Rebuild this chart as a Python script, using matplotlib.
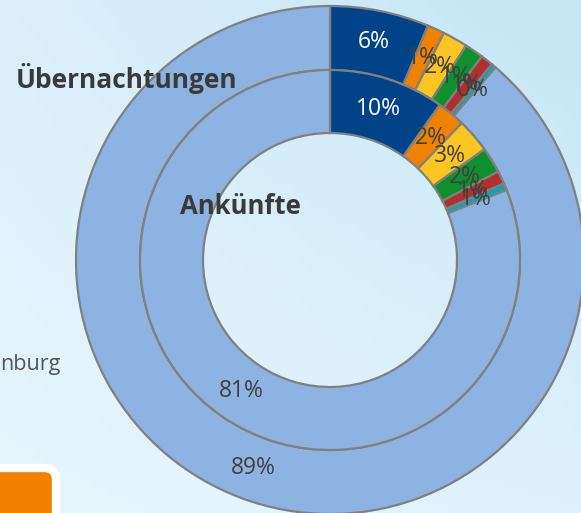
import numpy as np
import matplotlib.pyplot as plt
from matplotlib.patches import FancyBboxPatch
from matplotlib.colors import to_rgb

# data
segments = ["A", "B", "C", "D", "E", "F", "Rest"]
uebernachtungen = [6.3, 1.1, 1.6, 1.2, 0.8, 0.3, 88.7]
ankuenfte = [9.8, 2.4, 2.9, 2.2, 1.1, 0.6, 81.0]
colors = ["#004388", "#f08200", "#fdc520", "#0f902f", "#b0302f", "#10a2b7", "#8db3e2"]

W, H = 581, 513
fig = plt.figure(figsize=(W / 100, H / 100), dpi=100)
ax = fig.add_axes([0, 0, 1, 1])
ax.set_axis_off()

# background gradient (bilinear between corner colours)
tl, tr = np.array(to_rgb("#dbeffa")), np.array(to_rgb("#c4e6f5"))
bl, br = np.array(to_rgb("#e7f6fd")), np.array(to_rgb("#def2fb"))
u = np.linspace(0, 1, 64)[None, :, None]
v = np.linspace(0, 1, 64)[:, None, None]
grad = (1 - v) * ((1 - u) * tl + u * tr) + v * ((1 - u) * bl + u * br)
ax.imshow(grad, extent=(0, W, 0, H), origin="upper", aspect="auto", zorder=0)

cx, cy = 330, H - 260
r_out, r_mid, r_in = 254, 190, 127
font = "Open Sans"
edge = dict(edgecolor="#808080", linewidth=1.6)

def ring(values, radius, width):
    wedges, texts, autotexts = ax.pie(
        values, colors=colors, radius=radius, center=(cx, cy),
        startangle=90, counterclock=False, autopct="%1.0f%%",
        pctdistance=(radius - width / 2) / radius,
        wedgeprops=dict(width=width, **edge),
        textprops=dict(fontsize=16.5, color="#404040", family=font))
    autotexts[0].set_color("white")
    for w in wedges:
        w.set_zorder(2)
    for t in autotexts:
        t.set_zorder(3)

ring(uebernachtungen, r_out, r_out - r_mid)
ring(ankuenfte, r_mid, r_mid - r_in)

ax.set_xlim(0, W)
ax.set_ylim(0, H)
ax.set_aspect("auto")

ax.text(16, H - 88, "Übernachtungen", fontsize=19, fontweight="bold",
        color="#3a3a3a", family=font, ha="left", va="baseline", zorder=4)
ax.text(180, H - 214, "Ankünfte", fontsize=18.5, fontweight="bold",
        color="#3a3a3a", family=font, ha="left", va="baseline", zorder=4)
ax.text(0, H - 370, "nburg", fontsize=15.5, color="#555555", family=font,
        ha="left", va="baseline", zorder=4)

box = FancyBboxPatch((-40, -40), 96, H - 468 + 40,
                     boxstyle="round,pad=0,rounding_size=12",
                     facecolor="#f08200", edgecolor="white", linewidth=6,
                     zorder=4)
ax.add_patch(box)

fig.savefig("out.png", dpi=100)
